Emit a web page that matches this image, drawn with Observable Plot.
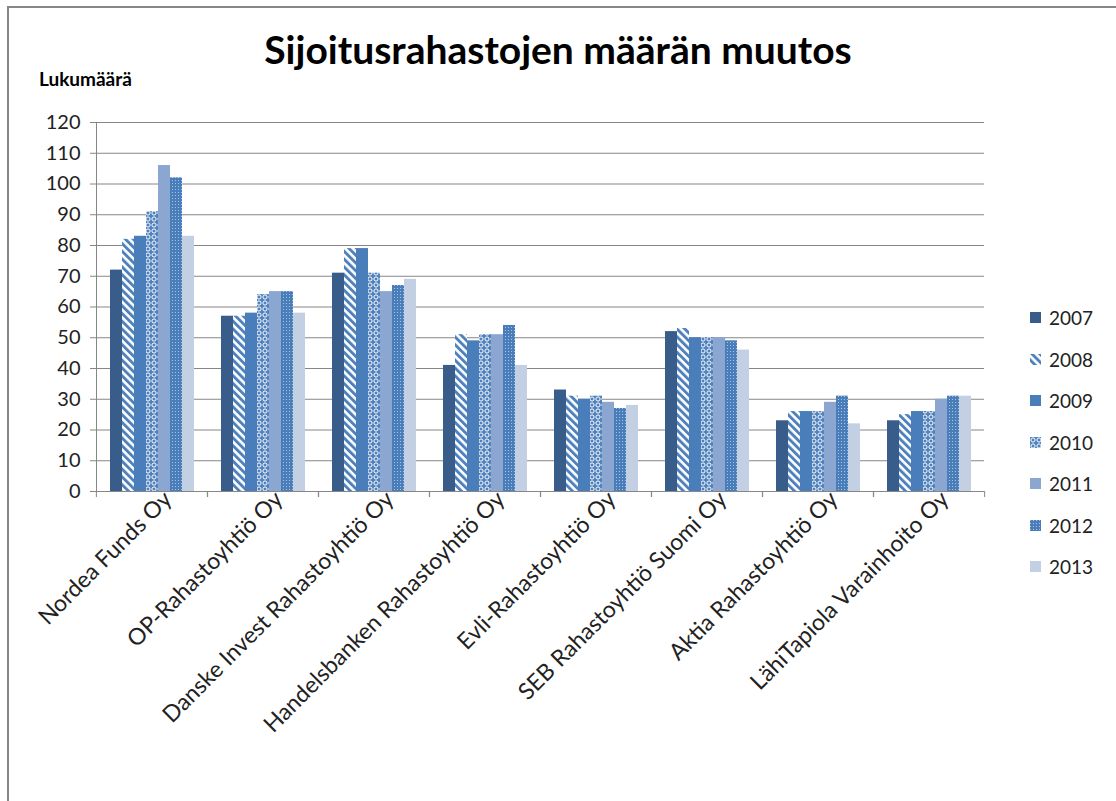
<!DOCTYPE html>
<html>
<head>
<meta charset="utf-8">
<script src="https://cdn.jsdelivr.net/npm/d3@7"></script>
<script src="https://cdn.jsdelivr.net/npm/@observablehq/plot@0.6"></script>
<style>
  html, body { margin: 0; padding: 0; background: #fff; }
  #wrap { position: relative; width: 1116px; height: 801px; overflow: hidden; font-family: Lato, "Open Sans", sans-serif; }
  #border { position: absolute; left: 7px; top: 6px; width: 1200px; height: 1000px; border-left: 2px solid #868686; border-top: 2px solid #868686; box-sizing: border-box; }
  #title { position: absolute; left: 0; width: 1116px; top: 26px; text-align: center; font-size: 39px; font-weight: bold; color: #000; }
  #ylab { position: absolute; left: 39px; top: 67px; font-size: 19px; font-weight: bold; color: #000; }
  #legend { position: absolute; left: 1030px; top: 297px; }
  .li { display: flex; align-items: center; height: 41.5px; font-size: 19px; color: #222; }
  .li svg { margin-right: 8px; }
  #plot { position: absolute; left: 0; top: 0; }
</style>
</head>
<body>
<div id="wrap">
  <div id="border"></div>
  <div id="plot"></div>
  <div id="title">Sijoitusrahastojen määrän muutos</div>
  <div id="ylab">Lukumäärä</div>
  <div id="legend"></div>
</div>
<svg width="0" height="0" style="position:absolute">
  <defs>
    <pattern id="p2008" patternUnits="userSpaceOnUse" width="5.5" height="5.5" patternTransform="rotate(-45)">
      <rect width="5.5" height="5.5" fill="#ffffff"/>
      <rect width="2.9" height="5.5" fill="#4F81BD"/>
    </pattern>
    <pattern id="p2010" patternUnits="userSpaceOnUse" width="6" height="6">
      <rect width="6" height="6" fill="#4F81BD"/>
      <circle cx="3" cy="3" r="2.1" fill="none" stroke="#ffffff" stroke-width="1"/>
    </pattern>
    <pattern id="p2012" patternUnits="userSpaceOnUse" width="3" height="3">
      <rect width="3" height="3" fill="#4A7EBB"/>
      <rect x="0" y="0" width="1" height="1" fill="#A9C1E3"/>
    </pattern>
  </defs>
</svg>
<script>
const categories = ["Nordea Funds Oy", "OP-Rahastoyhtiö Oy", "Danske Invest Rahastoyhtiö Oy", "Handelsbanken Rahastoyhtiö Oy", "Evli-Rahastoyhtiö Oy", "SEB Rahastoyhtiö Suomi Oy", "Aktia Rahastoyhtiö Oy", "LähiTapiola Varainhoito Oy"];
const years = ["2007", "2008", "2009", "2010", "2011", "2012", "2013"];
const v2007 = [72, 57, 71, 41, 33, 52, 23, 23];
const v2008 = [82, 57, 79, 51, 31, 53, 26, 25];
const v2009 = [83, 58, 79, 49, 30, 50, 26, 26];
const v2010 = [91, 64, 71, 51, 31, 50, 26, 26];
const v2011 = [106, 65, 65, 51, 29, 50, 29, 30];
const v2012 = [102, 65, 67, 54, 27, 49, 31, 31];
const v2013 = [83, 58, 69, 41, 28, 46, 22, 31];
const yTicks = [0, 10, 20, 30, 40, 50, 60, 70, 80, 90, 100, 110, 120];

const series = [v2007, v2008, v2009, v2010, v2011, v2012, v2013];
const fills = ["#385D8A", "url(#p2008)", "#4A7EBB", "url(#p2010)", "#8BA6D1", "url(#p2012)", "#C3D0E4"];

const data = [];
categories.forEach((c, i) => {
  years.forEach((y, j) => data.push({category: c, year: y, value: series[j][i]}));
});

const W = 1116, H = 801, ML = 95, MR = 131, MT = 122, MB = 310;
const band = (W - ML - MR) / categories.length;
const grid = "#868686";

const chart = Plot.plot({
  width: W, height: H,
  marginLeft: ML, marginRight: MR, marginTop: MT, marginBottom: MB,
  style: {fontFamily: "Lato, 'Open Sans', sans-serif", fontSize: "18px", color: "#222", background: "transparent"},
  fx: {domain: categories, padding: 0, label: null},
  x: {domain: years, paddingInner: 0, paddingOuter: 0.8, axis: null},
  y: {domain: [0, 120], label: null},
  color: {domain: years, range: fills},
  marks: [
    Plot.gridY(yTicks, {stroke: grid, strokeOpacity: 1, strokeWidth: 1}),
    Plot.barY(data, {fx: "category", x: "year", y: "value", fill: "year", inset: 0}),
    Plot.ruleY([0], {stroke: grid, strokeWidth: 1}),
    Plot.frame({anchor: "left", facetAnchor: "left", stroke: grid}),
    Plot.axisY(yTicks, {tickSize: 6, tickPadding: 10, stroke: grid, fill: "#222", fontSize: 20, tickFormat: d => String(d)}),
    Plot.axisFx({anchor: "bottom", tickSize: 6, text: null, dx: -band / 2, stroke: grid}),
    Plot.axisFx({anchor: "bottom", tickSize: 6, text: null, dx: band / 2, stroke: grid}),
    Plot.axisFx({anchor: "bottom", tickSize: 0, tickRotate: -45, tickPadding: 4, dx: 16, fontSize: 23, fill: "#222", label: null})
  ]
});
document.getElementById("plot").appendChild(chart);

const legend = d3.select("#legend");
years.forEach((y, j) => {
  const row = legend.append("div").attr("class", "li");
  const s = row.append("svg").attr("width", 11).attr("height", 11);
  s.append("rect").attr("width", 11).attr("height", 11).attr("fill", fills[j]);
  row.append("span").text(y);
});
</script>
</body>
</html>
